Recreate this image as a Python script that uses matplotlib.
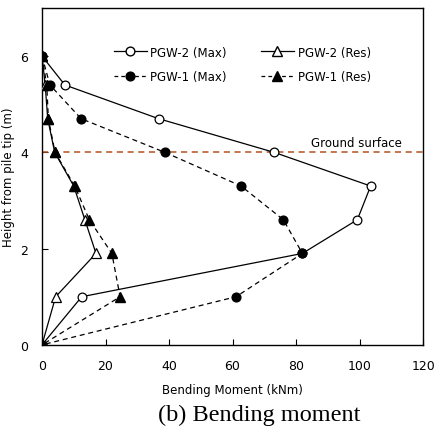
import matplotlib
matplotlib.use("Agg")
import matplotlib.pyplot as plt
from matplotlib.lines import Line2D

# Height above pile tip (m)
height = [6.0, 5.4, 4.7, 4.0, 3.3, 2.6, 1.9, 1.0, 0.0]

# Bending moment profiles (kNm)
pgw2_max = [0.0, 7.2, 36.7, 73.1, 103.5, 99.3, 82.0, 12.5, 0.0]
pgw1_max = [0.0, 2.5, 12.3, 38.7, 62.7, 76.0, 82.0, 61.1, 0.0]
pgw2_res = [0.0, 1.0, 1.8, 4.0, 10.0, 13.5, 17.0, 4.3, 0.0]
pgw1_res = [0.0, 1.5, 2.0, 4.1, 10.3, 14.9, 22.0, 24.6, 0.0]

ground_level = 4.0
x_ticks = [0, 20, 40, 60, 80, 100, 120]
y_ticks = [0, 2, 4, 6]

fig = plt.figure(figsize=(4.37, 4.27), dpi=100)
ax = fig.add_axes([0.0961, 0.19, 0.872, 0.789])

ms = 6.3
tms = 7.4
lw = 0.9
ax.plot(pgw2_max, height, '-', color='black', lw=lw, marker='o', ms=ms,
        mfc='white', mec='black', mew=0.9, zorder=3)
ax.plot(pgw1_max, height, '--', color='black', lw=lw, marker='o', ms=ms,
        mfc='black', mec='black', dashes=(4, 3), zorder=3)
ax.plot(pgw2_res, height, '-', color='black', lw=lw, marker='^', ms=tms,
        mfc='white', mec='black', mew=0.9, zorder=3)
ax.plot(pgw1_res, height, '--', color='black', lw=lw, marker='^', ms=tms,
        mfc='black', mec='black', dashes=(4, 3), zorder=3)

ax.axhline(ground_level, color='#b5501e', lw=1.1, ls=(0, (4, 3)), zorder=2)
ax.text(99, ground_level + 0.07, 'Ground surface', fontsize=8.5,
        ha='center', va='bottom')

ax.set_xlim(0, 120)
ax.set_ylim(0, 7)
ax.set_xticks(x_ticks)
ax.set_yticks(y_ticks)
ax.tick_params(direction='in', length=4, width=0.8, labelsize=9, pad=10)
for s in ax.spines.values():
    s.set_linewidth(1.0)

ax.set_xlabel('Bending Moment (kNm)', fontsize=8.5, labelpad=8)
ax.set_ylabel('Height from pile tip (m)', fontsize=8.5, labelpad=4)

handles = [
    Line2D([], [], ls='-', color='black', lw=lw, marker='o', ms=ms,
           mfc='white', mec='black'),
    Line2D([], [], ls='--', color='black', lw=lw, marker='o', ms=ms,
           mfc='black', mec='black', dashes=(3, 2.5)),
    Line2D([], [], ls='-', color='black', lw=lw, marker='^', ms=tms,
           mfc='white', mec='black'),
    Line2D([], [], ls='--', color='black', lw=lw, marker='^', ms=tms,
           mfc='black', mec='black', dashes=(3, 2.5)),
]
labels = ['PGW-2 (Max)', 'PGW-1 (Max)', 'PGW-2 (Res)', 'PGW-1 (Res)']
ax.legend(handles, labels, ncol=2, frameon=False, fontsize=8.5,
          loc='upper left', bbox_to_anchor=(0.16, 0.92), handlelength=2.8,
          columnspacing=2.9, labelspacing=0.95, handletextpad=0.3)

fig.text(0.594, 0.003, '(b) Bending moment', fontsize=17.5,
         family='Liberation Serif', ha='center', va='bottom')

fig.savefig('out.png', dpi=100)
